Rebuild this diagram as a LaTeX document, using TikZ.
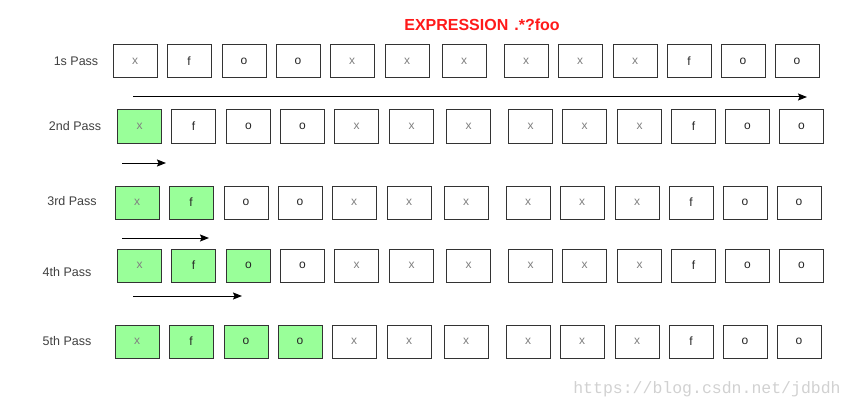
\documentclass[tikz,border=0pt]{standalone}
\usepackage{fontspec}
\setmainfont{Liberation Sans}
\newfontfamily\markfont{Liberation Mono}
\usetikzlibrary{arrows.meta,positioning}

\definecolor{hitgreen}{HTML}{99FF99}
\definecolor{titlered}{HTML}{FF1A1A}

\begin{document}
\begin{tikzpicture}[x=1pt,y=-1pt,->,>={Stealth[length=9pt,width=7pt,inset=1.5pt]},
    cell/.style={draw=black!80,line width=1pt,minimum width=44pt,minimum height=33pt,
                 inner sep=0pt,font=\fontsize{12}{12}\selectfont},
    pass/.style={text=black!75,font=\fontsize{12.5}{13}\selectfont},
    scan/.style={line width=1pt}]
  \useasboundingbox (0,0) rectangle (853,409);

  \node[text=titlered,font=\bfseries\fontsize{16}{16}\selectfont] (title) at (482,25)
       {EXPRESSION\hspace{6pt}.*?foo};

  % one row of cells per pass, green ones already matched
  \foreach \r/\dx/\yy/\n in {1/0/61.5/0,2/4.5/126.5/1,3/2/202.5/2,4/4.5/265.5/3,5/2/341.5/4}{
    \foreach \c/\x/\t/\g in {1/135/x/50,2/189/f/85,3/244/o/85,4/298/o/85,5/352/x/50,
        6/407/x/50,7/464/x/50,8/526/x/50,9/580/x/50,10/635/x/50,11/689/f/85,12/743/o/85,13/797/o/85}{
      \pgfmathtruncatemacro\pct{(\c<=\n)*100}
      \node[cell,fill=hitgreen!\pct!white,text=black!\g] (r\r c\c) at (\x+\dx,\yy) {\t};
    }
  }

  \node[pass] (p1) at (76,61)  {1s Pass};
  \node[pass] (p2) at (75,126) {2nd Pass};
  \node[pass] (p3) at (72,201) {3rd Pass};
  \node[pass] (p4) at (67,272) {4th Pass};
  \node[pass] (p5) at (67,341) {5th Pass};

  \coordinate (a1) at (133,97);  \coordinate (b1) at (807,97);
  \coordinate (a2) at (122,163); \coordinate (b2) at (166,163);
  \coordinate (a3) at (122,238); \coordinate (b3) at (209,238);
  \coordinate (a4) at (133,296); \coordinate (b4) at (242,296);

  \path[scan] (a1) edge (b1)
              (a2) edge (b2)
              (a3) edge (b3)
              (a4) edge (b4);

  \node[text=black!18,font=\markfont\fontsize{16.5}{17}\selectfont] (mark) at (707,389)
       {https://blog.csdn.net/jdbdh};
\end{tikzpicture}
\end{document}
